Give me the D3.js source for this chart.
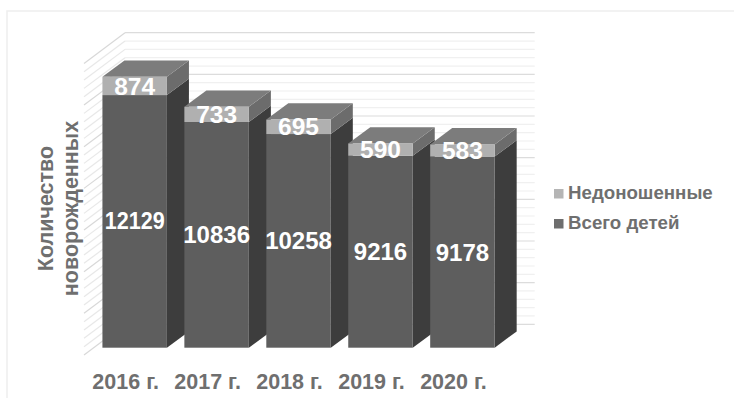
<!DOCTYPE html>
<html lang="ru">
<head>
<meta charset="utf-8">
<script src="https://cdnjs.cloudflare.com/ajax/libs/d3/7.8.5/d3.min.js"></script>
<style>
html,body{margin:0;padding:0;background:#fff}
svg{display:block}
text{font-family:"Liberation Sans",Arial,sans-serif;font-weight:700}
</style>
</head>
<body>
<svg id="chart" width="734" height="398"></svg>
<script>
// Newborn counts by year
const years = ["2016 г.", "2017 г.", "2018 г.", "2019 г.", "2020 г."];
const allChildren = [12129, 10836, 10258, 9216, 9178];
const preterm = [874, 733, 695, 590, 583];
const axisMax = 14000;
const minorStep = 400;
const majorStep = 2000;
const legendNames = ["Недоношенные", "Всего детей"];
const axisTitle = ["Количество", "новорожденных"];

const svg = d3.select("#chart");
const textGray = "#6f6f6f";
const legendColor = d3.scaleOrdinal().domain(legendNames).range(["#b5b5b5", "#6e6e6e"]);

// Oblique projection: bars sit mid-way along the floor depth
const bar = {dx: 22, dy: -16.3};
const wallBack = {dx: 31.3, dy: -23.4};
const wallFront = {dx: -9.7, dy: 7.3};

const x = d3.scaleBand().domain(years).range([93.7, 503.4]).paddingInner(0.213).paddingOuter(0.1065);
const y = d3.scaleLinear().domain([0, axisMax]).range([347.7, 56.1]);

// Frame edges
svg.append("path").attr("d", "M7,398V11H734").attr("fill", "none").attr("stroke", "#eeeeee").attr("stroke-width", 1.5);

// Back and side walls with their gridlines
const grid = svg.append("g").attr("fill", "none").attr("stroke-width", 1.2);
const wallLeft = x.range()[0] + wallBack.dx;
const wallRight = x.range()[1] + wallBack.dx;
d3.range(0, axisMax + 1, minorStep).forEach(v => {
  const major = v % majorStep === 0;
  const yb = y(v) + wallBack.dy;
  grid.append("path")
    .attr("d", d3.line()([[wallLeft, yb], [wallRight, yb]]))
    .attr("stroke", major ? "#dcdcdc" : "#f0f0f0");
  grid.append("path")
    .attr("d", d3.line()([[wallLeft + wallFront.dx - wallBack.dx, y(v) + wallFront.dy], [wallLeft, yb]]))
    .attr("stroke", major ? "#d8d8d8" : "#e8e8e8");
});

const poly = pts => "M" + pts.map(p => p.join(",")).join("L") + "Z";

// One stacked prism per year
const columns = svg.append("g").selectAll("g").data(years).join("g");
columns.each(function (year, i) {
  const g = d3.select(this);
  const x0 = x(year), x1 = x0 + x.bandwidth();
  const y0 = y(0), yA = y(allChildren[i]), yB = y(allChildren[i] + preterm[i]);
  const d = bar;
  g.append("path").attr("d", poly([[x1, y0], [x1 + d.dx, y0 + d.dy], [x1 + d.dx, yA + d.dy], [x1, yA]])).attr("fill", "#3d3d3d");
  g.append("path").attr("d", poly([[x1, yA], [x1 + d.dx, yA + d.dy], [x1 + d.dx, yB + d.dy], [x1, yB]])).attr("fill", "#6c6c6c");
  g.append("path").attr("d", poly([[x0, yB], [x1, yB], [x1 + d.dx, yB + d.dy], [x0 + d.dx, yB + d.dy]])).attr("fill", "#7c7c7c");
  g.append("rect").attr("x", x0).attr("y", yA).attr("width", x1 - x0).attr("height", y0 - yA).attr("fill", "#5e5e5e");
  g.append("rect").attr("x", x0).attr("y", yB).attr("width", x1 - x0).attr("height", yA - yB).attr("fill", "#b0b0b0");
  g.append("text").attr("x", (x0 + x1) / 2).attr("y", (yA + yB) / 2).attr("dy", "0.35em")
    .attr("text-anchor", "middle").attr("fill", "#fff").attr("font-size", 24.5).text(preterm[i]);
  // The tallest column's total is set tighter so it stays inside the face
  const total = g.append("text").attr("x", (x0 + x1) / 2).attr("y", (y0 + yA) / 2).attr("dy", "0.35em")
    .attr("text-anchor", "middle").attr("fill", "#fff").attr("font-size", i === 0 ? 23 : 24).text(allChildren[i]);
  if (i === 0) total.attr("textLength", 60).attr("lengthAdjust", "spacingAndGlyphs");
});

// Category axis
const axis = svg.append("g")
  .attr("transform", "translate(-9,381)")
  .call(d3.axisBottom(x).tickSize(0).tickPadding(0));
axis.select(".domain").remove();
axis.selectAll("text").attr("dy", "0.35em").attr("y", 0).attr("fill", textGray)
  .style("font-family", '"Liberation Sans",Arial,sans-serif').style("font-weight", 700).style("font-size", "21.5px");

// Axis title on two rotated lines
svg.selectAll(".axis-title").data(axisTitle).join("text").attr("class", "axis-title")
  .attr("transform", (d, i) => `translate(${45.8 + i * 24.7},208.5) rotate(-90)`)
  .attr("text-anchor", "middle").attr("dy", "0.35em")
  .attr("fill", textGray).attr("font-size", 21.5).text(d => d);

// Legend
const legend = svg.selectAll(".legend").data(legendNames).join("g").attr("class", "legend")
  .attr("transform", (d, i) => `translate(554,${193.5 + i * 30})`);
legend.append("rect").attr("y", -4.5).attr("width", 9.5).attr("height", 9.5).attr("fill", d => legendColor(d));
legend.append("text").attr("x", 14).attr("dy", "0.32em").attr("fill", textGray).attr("font-size", 18.7).text(d => d);
</script>
</body>
</html>
